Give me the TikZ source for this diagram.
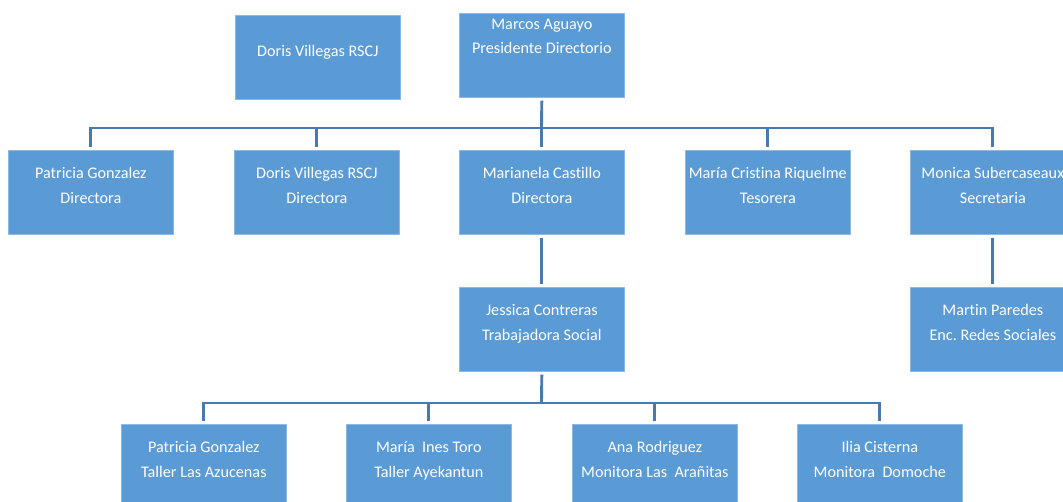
\documentclass[tikz,border=0pt]{standalone}
\usepackage{fontspec}
\setmainfont[Ligatures={NoCommon,NoContextual}]{Carlito}
\frenchspacing
\definecolor{boxfill}{HTML}{5B9BD5}
\definecolor{boxline}{HTML}{8DB8E2}
\definecolor{connline}{RGB}{72,122,172}
\tikzset{
  orgbox/.style={rectangle, fill=boxfill, draw=boxline, line width=0.7pt,
    minimum width=165pt, minimum height=84pt, inner sep=0pt, anchor=north west},
  txt/.style={text=white, font=\fontsize{16.2}{19}\selectfont, inner sep=0pt, anchor=base},
  conn/.style={draw=connline, line width=2.9pt, line join=miter}
}
\newcommand\orglines[3]{%
  \node[txt] (#1a) at ([yshift=-29pt]#1.north) {#2};
  \node[txt] (#1b) at ([yshift=-53.5pt]#1.north) {#3};}
\begin{document}
\begin{tikzpicture}[x=1pt,y=-1pt]
\useasboundingbox (0,0) rectangle (1063,502);
\begin{scope}
\clip (0,0) rectangle (1063,502);
% boxes
\node[orgbox] (doris0) at (235,15) {};
\node[orgbox] (marcos) at (459,13) {};
\node[orgbox] (p1) at (8,150) {};
\node[orgbox] (p2) at (234,150) {};
\node[orgbox] (p3) at (459,150) {};
\node[orgbox] (p4) at (685,150) {};
\node[orgbox] (p5) at (910,150) {};
\node[orgbox] (jess) at (459,287) {};
\node[orgbox] (martin) at (910,287) {};
\node[orgbox] (b1) at (121,424) {};
\node[orgbox] (b2) at (346,424) {};
\node[orgbox] (b3) at (572,424) {};
\node[orgbox] (b4) at (797,424) {};
% texts
\node[txt] (doris0a) at ([yshift=-41.5pt]doris0.north) {Doris Villegas RSCJ};
\node[txt] (marcosa) at ([yshift=-16.5pt]marcos.north) {Marcos Aguayo};
\node[txt] (marcosb) at ([yshift=-40.5pt]marcos.north) {Presidente Directorio};
\orglines{p1}{Patricia Gonzalez}{Directora}
\orglines{p2}{Doris Villegas RSCJ}{Directora}
\orglines{p3}{Marianela Castillo}{Directora}
\orglines{p4}{María Cristina Riquelme}{Tesorera}
\orglines{p5}{Monica Subercaseaux}{Secretaria}
\orglines{jess}{Jessica Contreras}{Trabajadora Social}
\orglines{martin}{Martin Paredes}{Enc. Redes Sociales}
\orglines{b1}{Patricia Gonzalez}{Taller Las Azucenas}
\orglines{b2}{María\ \ Ines Toro}{Taller Ayekantun}
\orglines{b3}{Ana Rodriguez}{Monitora Las\ \ Arañitas}
\orglines{b4}{Ilia Cisterna}{Monitora\ \ Domoche}
% connectors
\coordinate (bus1) at (541.5,128);
\coordinate (bus2) at (541.5,403);
\draw[conn, shorten <=3pt] (marcos.south) -- (bus1);
\foreach \n in {p1,p2,p3,p4,p5}{
  \draw[conn, shorten >=3pt] (bus1) -| (\n.north);
}
\draw[conn, shorten <=3pt, shorten >=3pt] (p3.south) -- (jess.north);
\draw[conn, shorten <=3pt, shorten >=3pt] (p5.south) -- (martin.north);
\draw[conn, shorten <=3pt] (jess.south) -- (bus2);
\foreach \n in {b1,b2,b3,b4}{
  \draw[conn, shorten >=3pt] (bus2) -| (\n.north);
}
\end{scope}
\end{tikzpicture}
\end{document}
